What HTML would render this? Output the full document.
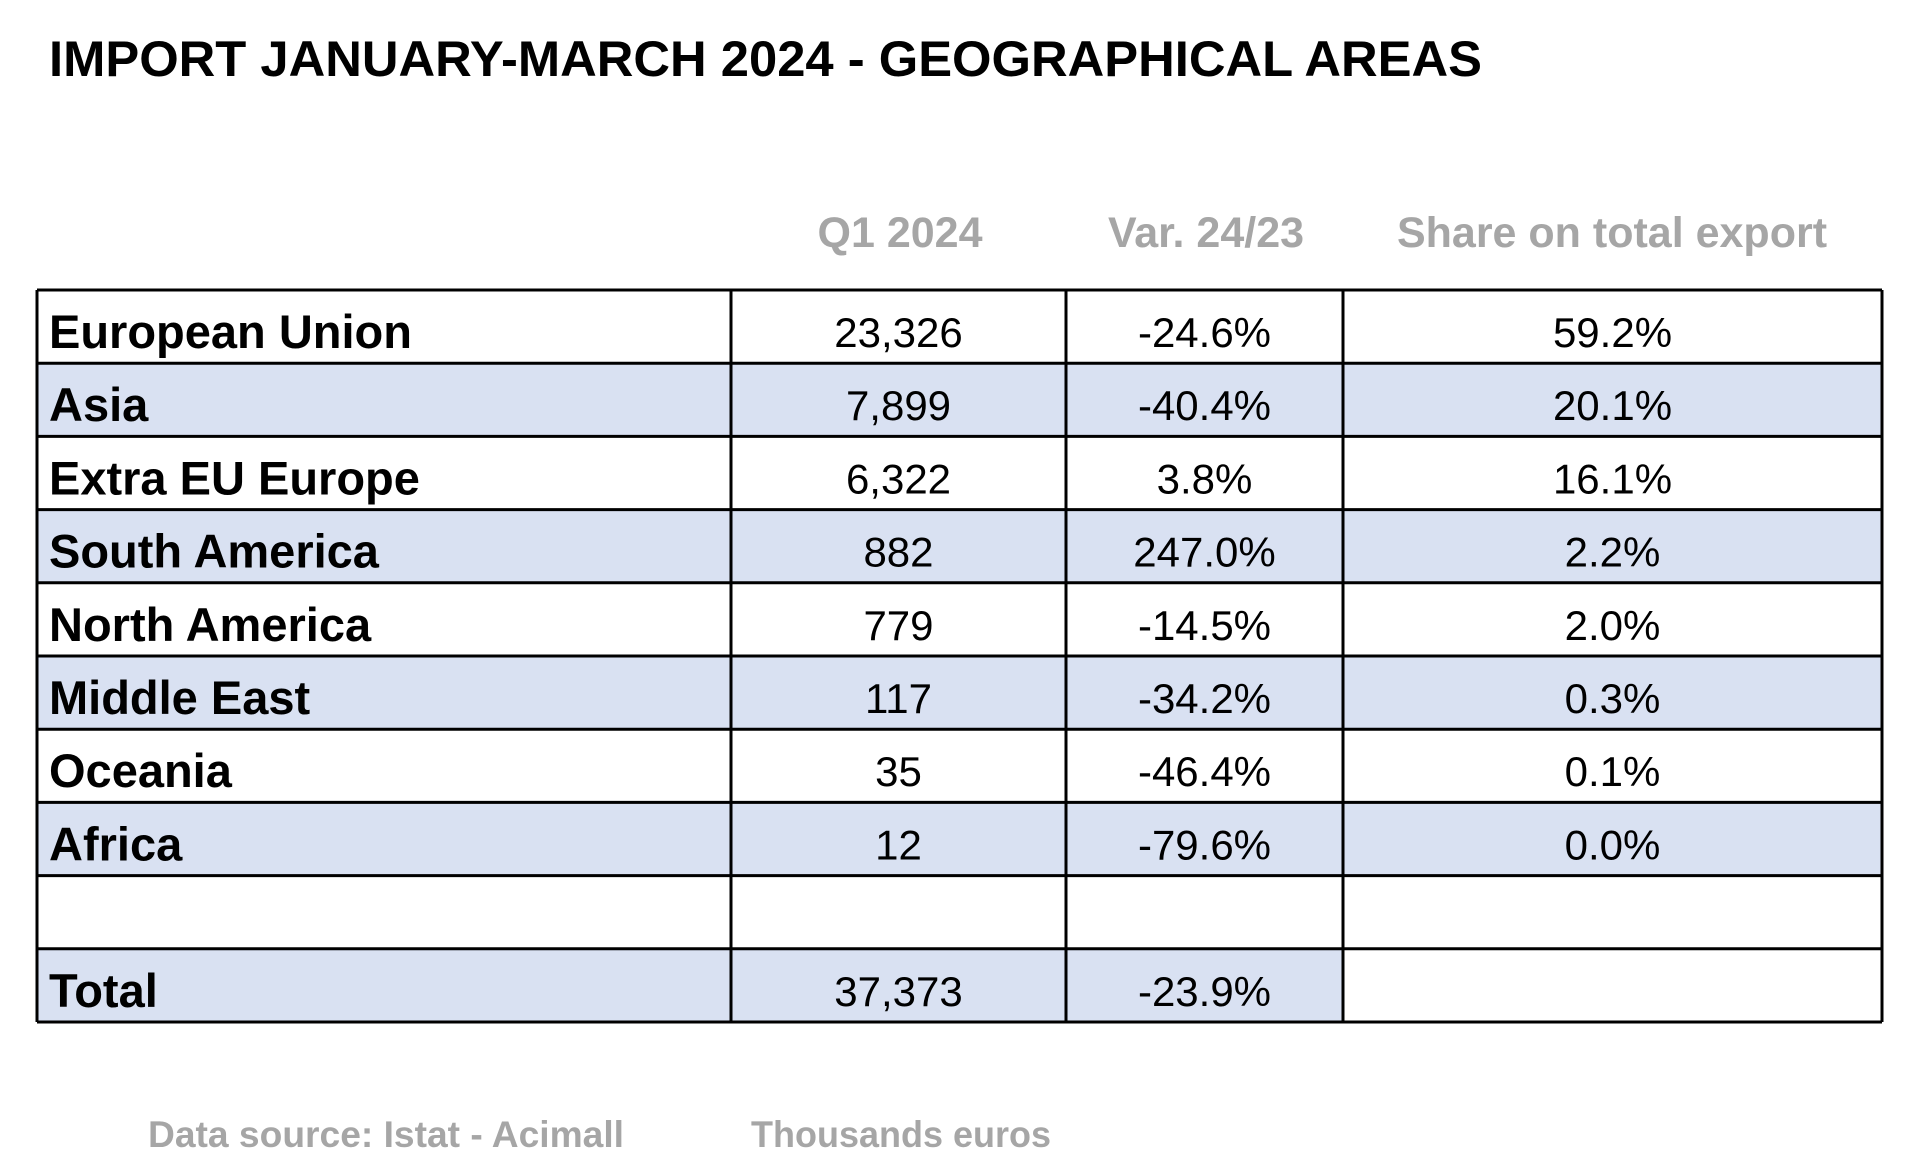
<!DOCTYPE html>
<html><head><meta charset="utf-8"><style>
html,body{margin:0;padding:0;background:#fff;width:1920px;height:1170px;overflow:hidden}
svg{display:block;font-family:"Liberation Sans",sans-serif}
</style></head><body>
<svg id="s" width="1920" height="1170" viewBox="0 0 1920 1170">
<text x="49" y="76" font-size="50" font-weight="bold" fill="#000" textLength="1433" lengthAdjust="spacingAndGlyphs">IMPORT JANUARY-MARCH 2024 - GEOGRAPHICAL AREAS</text>
<g id="tbl"></g>
<text x="148" y="1147" font-size="37" font-weight="bold" fill="#a6a6a6" textLength="476" lengthAdjust="spacingAndGlyphs">Data source: Istat - Acimall</text>
<text x="751" y="1147" font-size="37" font-weight="bold" fill="#a6a6a6" textLength="300" lengthAdjust="spacingAndGlyphs">Thousands euros</text>
</svg>
<script>
const headers=["Q1 2024","Var. 24/23","Share on total export"];
const regions=["European Union","Asia","Extra EU Europe","South America","North America","Middle East","Oceania","Africa","","Total"];
const q1Values=["23,326","7,899","6,322","882","779","117","35","12","","37,373"];
const varValues=["-24.6%","-40.4%","3.8%","247.0%","-14.5%","-34.2%","-46.4%","-79.6%","","-23.9%"];
const shareValues=["59.2%","20.1%","16.1%","2.2%","2.0%","0.3%","0.1%","0.0%","",""];
const NS="http://www.w3.org/2000/svg";
const g=document.getElementById('tbl');
const colX=[37,731,1066,1343,1882];
const top0=290,rowH=73.2;
const shade="#d9e1f2";
function el(t,a){const e=document.createElementNS(NS,t);for(const k in a)e.setAttribute(k,a[k]);return e;}
const headerCenters=[900,1206,1612];
headers.forEach((h,i)=>{
 const t=el('text',{x:headerCenters[i],y:247,'font-size':43,'font-weight':'bold',fill:'#a6a6a6','text-anchor':'middle'});
 
 
 t.textContent=h;g.appendChild(t);
});
regions.forEach((r,i)=>{
 const y=top0+i*rowH;
 const shaded=(i%2===1&&i<8)||i===9;
 if(shaded){
  const w=(i===9?colX[3]:colX[4])-colX[0];
  const bg=el('rect',{x:colX[0],y:y,width:w,height:rowH,fill:shade});
  
  
  g.appendChild(bg);
 }
 const base=y+58;
 const lab=el('text',{x:49,y:base,'font-size':47,'font-weight':'bold',fill:'#000'});
 
 
 lab.textContent=r;g.appendChild(lab);
 [q1Values[i],varValues[i],shareValues[i]].forEach((v,j)=>{
  const t=el('text',{x:(colX[j+1]+colX[j+2])/2,y:base-1,'font-size':42,fill:'#000','text-anchor':'middle'});
  
  
  t.textContent=v;g.appendChild(t);
 });
});
const bottom=top0+regions.length*rowH;
for(let i=0;i<=regions.length;i++){
 const y=top0+i*rowH;
 const l=el('line',{x1:colX[0],x2:colX[4],y1:y,y2:y,stroke:'#000','stroke-width':3});
 
 
 g.appendChild(l);
}
colX.forEach(x=>{
 const l=el('line',{x1:x,x2:x,y1:top0,y2:bottom,stroke:'#000','stroke-width':3});
 
 
 g.appendChild(l);
});
</script>
</body></html>
